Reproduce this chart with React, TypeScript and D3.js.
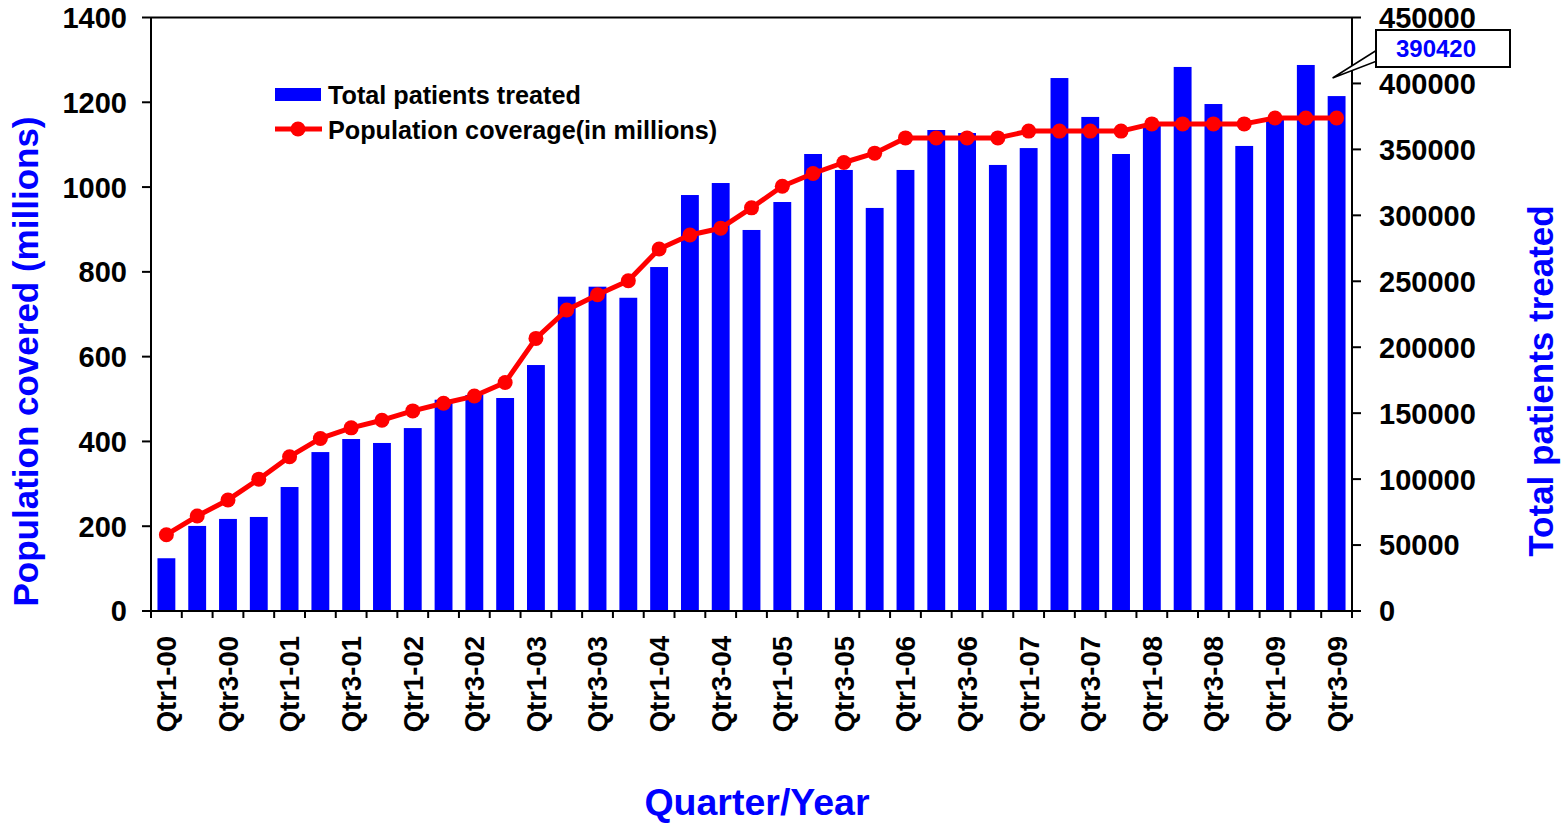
import React from "react";
import * as d3 from "d3";

const years = ["00", "01", "02", "03", "04", "05", "06", "07", "08", "09"];
const quarters = ["Qtr1", "Qtr2", "Qtr3", "Qtr4"];
const categories: string[] = years
  .flatMap((y) => quarters.map((q) => `${q}-${y}`))
  .slice(0, 39);

const patientsTreated = [
  40000, 64500, 69800, 71300, 94000, 120500, 130400, 127400, 138700, 160200,
  163800, 161500, 186500, 238300, 245900, 237500, 260800, 315400, 324500, 288900,
  310100, 346500, 334400, 305600, 334400, 364700, 362400, 338200, 351000, 404100,
  374600, 346500, 368500, 412500, 384400, 352600, 372300, 414000, 390420,
];

const populationCoverage = [
  180, 224, 262, 311, 364, 407, 432, 450, 472, 490, 507, 539, 643, 710, 746,
  779, 854, 887, 903, 951, 1002, 1032, 1058, 1080, 1116, 1116, 1116, 1116, 1132,
  1132, 1132, 1132, 1149, 1149, 1149, 1149, 1163, 1163, 1163,
];

const leftTicks = [0, 200, 400, 600, 800, 1000, 1200, 1400];
const rightTicks = [0, 50000, 100000, 150000, 200000, 250000, 300000, 350000, 400000, 450000];
const calloutValue = "390420";

const W = 1567;
const H = 824;
const M = { left: 151, right: 1352, top: 17.5, bottom: 611 };
const FONT = "'Liberation Sans', Arial, sans-serif";
const BLUE = "#0000FF";
const RED = "#FF0000";

export default function App() {
  const x = d3
    .scaleBand<string>()
    .domain(categories)
    .range([M.left, M.right])
    .paddingInner(0.42)
    .paddingOuter(0.21);
  const step = x.step();
  const yL = d3.scaleLinear().domain([0, 1400]).range([M.bottom, M.top]);
  const yR = d3.scaleLinear().domain([0, 450000]).range([M.bottom, M.top]);
  const cx = (c: string) => (x(c) as number) + x.bandwidth() / 2;

  const line = d3
    .line<number>()
    .x((_, i) => cx(categories[i]))
    .y((d) => yL(d));

  const lastIdx = patientsTreated.length - 1;
  const tipX = cx(categories[lastIdx]) - 4;
  const tipY = 78;

  return (
    <svg
      width={W}
      height={H}
      style={{ position: "absolute", left: 0, top: 0, background: "#fff" }}
      fontFamily={FONT}
      fontWeight="bold"
    >
      {/* bars */}
      {patientsTreated.map((v, i) => (
        <rect
          key={i}
          x={x(categories[i])}
          y={yR(v)}
          width={x.bandwidth()}
          height={M.bottom - yR(v)}
          fill={BLUE}
        />
      ))}
      {/* line */}
      <path d={line(populationCoverage) || ""} fill="none" stroke={RED} strokeWidth={5} strokeLinejoin="round" />
      {populationCoverage.map((v, i) => (
        <circle key={i} cx={cx(categories[i])} cy={yL(v)} r={7.5} fill={RED} />
      ))}

      {/* frame: top border */}
      <line x1={M.left} x2={M.right} y1={M.top} y2={M.top} stroke="#000" strokeWidth={2} />
      {/* left axis */}
      <line x1={M.left} x2={M.left} y1={M.top} y2={M.bottom} stroke="#000" strokeWidth={2} />
      {leftTicks.map((t) => (
        <g key={t}>
          <line x1={M.left - 9} x2={M.left} y1={yL(t)} y2={yL(t)} stroke="#000" strokeWidth={2} />
          <text x={127} y={yL(t)} dy="0.36em" textAnchor="end" fontSize={29} fill="#000">
            {t}
          </text>
        </g>
      ))}
      {/* right axis */}
      <line x1={M.right} x2={M.right} y1={M.top} y2={M.bottom} stroke="#000" strokeWidth={2} />
      {rightTicks.map((t) => (
        <g key={t}>
          <line x1={M.right} x2={M.right + 9} y1={yR(t)} y2={yR(t)} stroke="#000" strokeWidth={2} />
          <text x={1379} y={yR(t)} dy="0.36em" textAnchor="start" fontSize={29} fill="#000">
            {t}
          </text>
        </g>
      ))}
      {/* bottom axis */}
      <line x1={M.left} x2={M.right} y1={M.bottom} y2={M.bottom} stroke="#000" strokeWidth={2} />
      {categories.map((c, i) => (
        <line
          key={c}
          x1={M.left + step * i}
          x2={M.left + step * i}
          y1={M.bottom}
          y2={M.bottom + 7}
          stroke="#000"
          strokeWidth={2}
        />
      ))}
      <line x1={M.right} x2={M.right} y1={M.bottom} y2={M.bottom + 7} stroke="#000" strokeWidth={2} />
      {categories.map((c, i) =>
        i % 2 === 0 ? (
          <text
            key={c}
            transform={`translate(${cx(c)},636) rotate(-90)`}
            dy="0.36em"
            textAnchor="end"
            fontSize={27.5}
            fill="#000"
          >
            {c}
          </text>
        ) : null
      )}

      {/* axis titles */}
      <text
        transform={`translate(38,${(115 + 608) / 2}) rotate(-90)`}
        textAnchor="middle"
        fontSize={35}
        fill={BLUE}
      >
        Population covered (millions)
      </text>
      <text
        transform={`translate(1553,${(205 + 557) / 2}) rotate(-90)`}
        textAnchor="middle"
        fontSize={35}
        fill={BLUE}
      >
        Total patients treated
      </text>
      <text x={757} y={815} textAnchor="middle" fontSize={37.5} fill={BLUE}>
        Quarter/Year
      </text>

      {/* legend */}
      <rect x={275} y={88} width={46} height={13} fill={BLUE} />
      <text x={328} y={104} fontSize={25.2} fill="#000">
        Total patients treated
      </text>
      <line x1={275} x2={322} y1={129} y2={129} stroke={RED} strokeWidth={5} />
      <circle cx={298} cy={129} r={7.5} fill={RED} />
      <text x={328} y={139} fontSize={25.2} fill="#000">
        Population coverage(in millions)
      </text>

      {/* callout */}
      <polygon
        points={`1377,50 ${tipX},${tipY} 1377,61`}
        fill="#fff"
        stroke="#000"
        strokeWidth={1.5}
        strokeLinejoin="miter"
      />
      <rect x={1376} y={30} width={134} height={37} fill="#fff" stroke="#000" strokeWidth={2} />
      <text x={1436} y={57} textAnchor="middle" fontSize={24} fill={BLUE}>
        {calloutValue}
      </text>
    </svg>
  );
}
